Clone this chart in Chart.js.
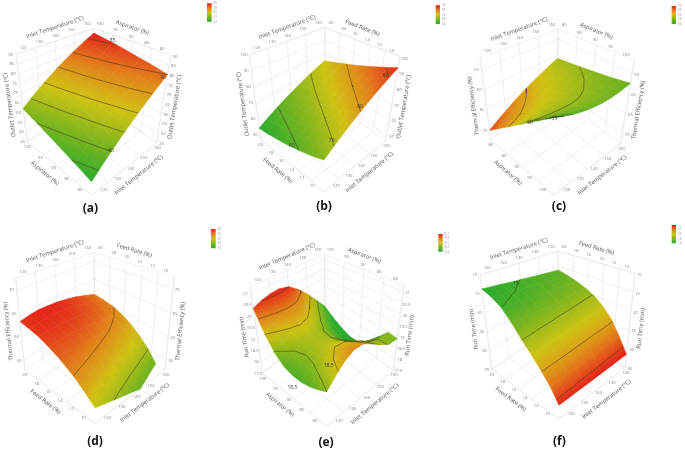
<!DOCTYPE html>
<html><head><meta charset="utf-8">
<style>html,body{margin:0;padding:0;background:#fff;width:685px;height:450px;overflow:hidden}canvas{position:absolute}</style>
<script src="https://cdn.jsdelivr.net/npm/chart.js@4"></script>
</head><body>
<script>
// ---- readings from the picture: first tick of each axis sits at the front corner
const inletUp=[120,130,140,150,160], inletDown=[160,150,140,130,120];
const aspUp=[80,85,90,95,100], aspDown=[100,95,90,85,80];
const feedUp=[10,12,14,16,18,20];
const aOutlet=[45,50,55,60,65,70,75,80,85,90];
const bOutlet=[50,60,70,80,90,100];
const cEfficiency=[55,60,65,70];
const dEfficiency=[55,60,65,70];
const eRunTime=[17.5,18,18.5,19,19.5,20,20.5,21];
const fRunTime=[10,15,20,25,30,35];
const aLevels=[55,60,65,70,75,80,85], bLevels=[60,70,80,90], cLevels=[55,60,65], dLevels=[55,60], eLevels=[19,19.5,20,20.5], fLevels=[15,20,25,30];
const aLegend=[86,78,69,61,52], bLegend=[94,84,74,64,54], cLegend=[70,66,62,58,54], dLegend=[64,60,57,53,50], eLegend=[20.7,19.9,19.1,18.2,17.4], fLegend=[32,27,23,18,14];
const aSurface=[
[52,55.5,59,62.5,66,69.5,73,76.5,80],
[53.3,56.7,60.2,63.6,67.1,70.5,74,77.4,80.9],
[54.5,57.9,61.3,64.7,68.1,71.5,75,78.3,81.8],
[55.8,59.1,62.5,65.8,69.2,72.6,75.9,79.3,82.6],
[57,60.3,63.6,66.9,70.3,73.6,76.9,80.2,83.5],
[58.3,61.5,64.8,68.1,71.3,74.6,77.9,81.1,84.4],
[59.5,62.7,65.9,69.2,72.4,75.6,78.8,82,85.3],
[60.8,63.9,67.1,70.3,73.4,76.6,79.8,83,86.1],
[62,65.1,68.3,71.4,74.5,77.6,80.8,83.9,87]];
const bSurface=[
[66,69.4,72.8,76.1,79.5,82.9,86.3,89.6,93],
[63.8,67.2,70.5,73.9,77.2,80.6,83.9,87.3,90.6],
[61.9,65.2,68.5,71.8,75.1,78.4,81.7,85,88.3],
[60.1,63.3,66.6,69.8,73,76.2,79.5,82.7,85.9],
[58.5,61.6,64.8,67.9,71,74.1,77.3,80.4,83.5],
[57.1,60.1,63.1,66.1,69.1,72.1,75.1,78.1,81.1],
[55.9,58.8,61.6,64.5,67.3,70.2,73,75.9,78.8],
[54.8,57.5,60.2,62.9,65.6,68.3,71,73.7,76.4],
[54,56.5,59,61.5,64,66.5,69,71.5,74]];
const cSurface=[
[54,55.2,56.2,57,57.6,58,58.1,58,57.6],
[56,56.9,57.6,58.2,58.6,58.8,58.8,58.5,58],
[58,58.6,59.1,59.4,59.6,59.6,59.4,59,58.5],
[60,60.3,60.5,60.6,60.6,60.4,60,59.5,58.9],
[62,62.1,62,61.8,61.6,61.2,60.7,60,59.3],
[64,63.8,63.4,63,62.5,62,61.3,60.6,59.7],
[66,65.5,64.9,64.2,63.5,62.8,62,61.1,60.2],
[68,67.2,66.3,65.4,64.5,63.6,62.6,61.6,60.6],
[70,68.9,67.8,66.6,65.5,64.4,63.3,62.1,61]];
const dSurface=[
[56.5,55.8,55.1,54.4,53.8,53.1,52.4,51.7,51],
[58.1,57.5,57,56.3,55.7,55,54.4,53.6,52.9],
[59.6,59.2,58.8,58.3,57.7,57.1,56.5,55.8,55],
[60.7,60.5,60.2,59.8,59.3,58.8,58.2,57.5,56.7],
[61.7,61.6,61.4,61.1,60.8,60.3,59.7,59,58.2],
[62.4,62.4,62.4,62.2,61.9,61.4,60.8,60.1,59.3],
[63,63.2,63.2,63,62.8,62.3,61.7,61,60.1],
[63.2,63.5,63.6,63.5,63.3,62.8,62.2,61.5,60.5],
[63.3,63.7,63.9,63.8,63.6,63.2,62.6,61.7,60.7]];
const eSurface=[
[19,19.4,19.75,19.95,19.9,19.6,19.25,18.95,18.9],
[18.8,19.2,19.56,19.77,19.75,19.47,19.13,18.97,18.95],
[18.65,19.02,19.34,19.53,19.49,19.21,18.86,18.65,18.5],
[18.55,18.88,19.16,19.32,19.26,18.98,18.59,18.26,18],
[18.55,18.84,19.09,19.22,19.16,18.86,18.45,18.06,17.7],
[18.65,18.93,19.15,19.28,19.2,18.91,18.49,18.07,17.65],
[18.95,19.2,19.41,19.52,19.46,19.16,18.74,18.27,17.8],
[19.5,19.71,19.88,19.96,19.88,19.57,19.11,18.6,18.05],
[20.35,20.5,20.6,20.62,20.5,20.15,19.65,19.05,18.4]];
const fSurface=[
[31,31.1,31.1,31.2,31.3,31.3,31.4,31.4,31.5],
[27.5,27.6,27.6,27.7,27.8,27.8,27.9,27.9,28],
[24.8,24.8,24.8,24.7,24.7,24.7,24.7,24.6,24.6],
[22.3,22.3,22.3,22.3,22.3,22.2,22.2,22.2,22.2],
[20,20,20.1,20.1,20.2,20.2,20.2,20.3,20.3],
[17.3,17.5,17.7,17.9,18.2,18.4,18.6,18.8,19],
[15,15.4,15.8,16.1,16.5,16.9,17.3,17.6,18],
[14,14.4,14.8,15.2,15.6,16,16.4,16.8,17.2],
[13.7,14,14.3,14.7,15,15.4,15.8,16.2,16.6]];

// ---- camera and layout of every panel, in units of a third of a pixel inside its tile
const panels=[
{tag:'(a)',tile:[0,0,240,225],tagAt:[271,625],surface:aSurface,uTicks:inletUp,vTicks:aspUp,zTicks:aOutlet,levels:aLevels,legend:aLegend,
 uTitle:'Inlet Temperature (°C)',vTitle:'Aspirator (%)',zTitle:'Outlet Temperature (°C)',zFloor:45,zRoof:90,colors:[52,87],
 TL:[48,163],TR:[512,165],TB:[282,85],TF:[272,329],L:[82,425],R:[470,428],B:[279,298],F:[275,585],legendBox:[621,10,635,65],
 notes:[['60',333,452],['85',338,122],['80',490,232]]},
{tag:'(b)',tile:[230,0,230,225],tagAt:[282,621],surface:bSurface,uTicks:inletUp,vTicks:feedUp,zTicks:bOutlet,levels:bLevels,legend:bLegend,
 uTitle:'Inlet Temperature (°C)',vTitle:'Feed Rate (%)',zTitle:'Outlet Temperature (°C)',zFloor:47,zRoof:100,colors:[54,94],
 TL:[58,165],TR:[510,170],TB:[285,82],TF:[282,310],L:[92,418],R:[467,422],B:[283,287],F:[282,575],legendBox:[617,16,630,72],
 notes:[['60',185,437],['70',305,423],['80',390,320],['90',467,226]]},
{tag:'(c)',tile:[455,0,230,225],tagAt:[312,621],surface:cSurface,uTicks:inletUp,vTicks:aspDown,zTicks:cEfficiency,levels:cLevels,legend:cLegend,
 uTitle:'Inlet Temperature (°C)',vTitle:'Aspirator (%)',zTitle:'Thermal Efficiency (%)',zFloor:72.4,zRoof:52,colors:[54,72],
 TL:[75,172],TR:[538,182],TB:[310,88],TF:[298,326],L:[108,420],R:[497,430],B:[305,285],F:[298,585],legendBox:[650,18,663,72],
 notes:[['60',225,369],['55',298,357]]},
{tag:'(d)',tile:[0,225,240,225],tagAt:[285,651],surface:dSurface,uTicks:inletUp,vTicks:feedUp,zTicks:dEfficiency,levels:dLevels,legend:dLegend,
 uTitle:'Inlet Temperature (°C)',vTitle:'Feed Rate (%)',zTitle:'Thermal Efficiency (%)',zFloor:53,zRoof:72.5,colors:[50,64],
 TL:[47,160],TR:[522,155],TB:[283,82],TF:[285,336],L:[75,435],R:[495,435],B:[283,290],F:[285,595],legendBox:[633,12,647,70],
 notes:[]},
{tag:'(e)',tile:[230,225,230,225],tagAt:[288,652],surface:eSurface,uTicks:inletUp,vTicks:aspUp,zTicks:eRunTime,levels:eLevels,legend:eLegend,
 uTitle:'Inlet Temperature (°C)',vTitle:'Aspirator (%)',zTitle:'Run Time (min)',zFloor:17.5,zRoof:21.3,colors:[18.3,20.6],
 TL:[60,185],TR:[522,180],TB:[283,88],TF:[290,344],L:[98,445],R:[490,435],B:[285,292],F:[290,603],legendBox:[625,27,638,80],
 notes:[['18.5',296,423],['18.5',187,487]]},
{tag:'(f)',tile:[455,225,230,225],tagAt:[313,651],surface:fSurface,uTicks:inletDown,vTicks:feedUp,zTicks:fRunTime,levels:fLevels,legend:fLegend,
 uTitle:'Inlet Temperature (°C)',vTitle:'Feed Rate (%)',zTitle:'Run Time (min)',zFloor:35,zRoof:10,colors:[13.7,31.5],
 TL:[75,150],TR:[540,145],TB:[308,78],TF:[312,323],L:[110,433],R:[510,428],B:[315,295],F:[312,582],legendBox:[650,0,663,55],
 notes:[['15',183,177]]}
];

const RAMP=[[0,[44,172,44]],[0.25,[122,180,30]],[0.5,[208,196,18]],[0.75,[226,128,26]],[1,[228,32,26]]];
function ramp(t,k){t=Math.max(0,Math.min(1,t));
  for(let s=1;s<RAMP.length;s++){if(t<=RAMP[s][0]){const a=RAMP[s-1],b=RAMP[s],f=(t-a[0])/(b[0]-a[0]);
    return `rgb(${a[1].map((c,n)=>Math.round((c+(b[1][n]-c)*f)*k)).join(',')})`;}}
  return `rgb(${RAMP[4][1].map(c=>Math.round(c*k)).join(',')})`;}

function build(p){
  const mix=(a,b,t)=>[a[0]+(b[0]-a[0])*t,a[1]+(b[1]-a[1])*t];
  const toW=z=>(z-p.zFloor)/(p.zRoof-p.zFloor);
  // trilinear camera from the eight box corners to the chart's x/y plane
  const proj=(u,v,w)=>{const low=mix(mix(p.F,p.R,u),mix(p.L,p.B,u),v),high=mix(mix(p.TF,p.TR,u),mix(p.TL,p.TB,u),v),q=mix(low,high,w);return {x:q[0]/3,y:q[1]/3};};
  const S=p.surface,nj=S.length-1,ni=S[0].length-1;
  const frac=(t,a)=>(t-a[0])/(a[a.length-1]-a[0]);
  const area=q=>{let s=0;q.forEach((a,k)=>{const b=q[(k+1)%q.length];s+=a.x*b.y-b.x*a.y;});return s/2;};
  const floorArea=area([proj(0,0,0),proj(1,0,0),proj(1,1,0),proj(0,1,0)]);
  const sets=[];
  // ---- box grid
  const grid=[],gap={x:NaN,y:NaN};
  const seg=(a,b)=>{grid.push(a,b,gap);};
  p.uTicks.forEach(t=>{const u=frac(t,p.uTicks);seg(proj(u,0,0),proj(u,1,0));seg(proj(u,1,0),proj(u,1,1));});
  p.vTicks.forEach(t=>{const v=frac(t,p.vTicks);seg(proj(0,v,0),proj(1,v,0));seg(proj(1,v,0),proj(1,v,1));});
  p.zTicks.forEach(t=>{const w=toW(t);seg(proj(0,1,w),proj(1,1,w));seg(proj(1,1,w),proj(1,0,w));});
  seg(proj(0,1,0),proj(0,1,1));seg(proj(1,0,0),proj(1,0,1));seg(proj(0,1,1),proj(1,1,1));seg(proj(1,1,1),proj(1,0,1));
  seg(proj(0,0,0),proj(1,0,0));seg(proj(0,0,0),proj(0,1,0));
  sets.push({data:grid,showLine:true,borderColor:'#e4e4e4',borderWidth:0.6,pointRadius:0,spanGaps:false,fill:false});
  // ---- surface cells, far corner first
  for(let j=nj-1;j>=0;j--)for(let i=ni-1;i>=0;i--){
    const nodes=[[i,j],[i+1,j],[i+1,j+1],[i,j+1]].map(([a,b])=>({u:a/ni,v:b/nj,z:S[b][a]}));
    // keep only what lies above the floor of the box
    const keep=[];
    nodes.forEach((n,k)=>{const m=nodes[(k+1)%4],wn=toW(n.z),wm=toW(m.z);
      if(wn>=0)keep.push(n);
      if((wn>=0)!==(wm>=0)){const f=wn/(wn-wm);keep.push({u:n.u+(m.u-n.u)*f,v:n.v+(m.v-n.v)*f,z:n.z+(m.z-n.z)*f});}});
    if(keep.length<3)continue;
    const pts=keep.map(n=>proj(n.u,n.v,toW(n.z)));
    // steep or folded-over cells look darker, as the dense mesh does in the picture
    const ratio=area(nodes.map(n=>proj(n.u,n.v,toW(n.z))))/(floorArea/(ni*nj));
    const shade=ratio<=0?0.62:0.66+0.34*Math.min(1,ratio/0.35);
    const tone=z=>ramp((z-p.colors[0])/(p.colors[1]-p.colors[0]),shade);
    const paint=(ctx)=>{
      const c=ctx.chart, X=c.scales.x, Y=c.scales.y;
      const zs0=nodes.map(n=>n.z),z0=zs0.reduce((s,z)=>s+z,0)/4;
      if(!X||!Y)return tone(z0);
      const px=nodes.map(n=>{const q=proj(n.u,n.v,toW(n.z));return [X.getPixelForValue(q.x),Y.getPixelForValue(q.y),n.z];});
      const zs=px.map(q=>q[2]),zc=zs.reduce((s,z)=>s+z,0)/4;
      const cx=px.reduce((s,q)=>s+q[0],0)/4,cy=px.reduce((s,q)=>s+q[1],0)/4;
      if(!isFinite(cx)||!isFinite(cy))return tone(zc);
      const d1=[px[2][0]-px[0][0],px[2][1]-px[0][1],px[2][2]-px[0][2]],d2=[px[3][0]-px[1][0],px[3][1]-px[1][1],px[3][2]-px[1][2]];
      const det=d1[0]*d2[1]-d1[1]*d2[0];
      if(Math.abs(det)<1e-3)return tone(zc);
      const ga=(d1[2]*d2[1]-d1[1]*d2[2])/det,gb=(d1[0]*d2[2]-d1[2]*d2[0])/det,g2=ga*ga+gb*gb;
      const dz=Math.max(...zs.map(z=>Math.abs(z-zc)));
      if(g2<1e-9||dz<1e-6)return tone(zc);
      const lim=Math.min(dz/Math.sqrt(g2),14)*Math.sqrt(g2);
      const gr=c.ctx.createLinearGradient(cx-lim*ga/g2,cy-lim*gb/g2,cx+lim*ga/g2,cy+lim*gb/g2);
      gr.addColorStop(0,tone(zc-lim));gr.addColorStop(0.5,tone(zc));gr.addColorStop(1,tone(zc+lim));
      return gr;};
    sets.push({data:[...pts,pts[0]],showLine:true,fill:'shape',backgroundColor:paint,borderColor:paint,borderWidth:0.6,pointRadius:0,pointBackgroundColor:'transparent',pointBorderColor:'transparent'});
  }
  // ---- contour lines from the table (marching squares)
  p.levels.forEach(L=>{const line=[];
    for(let j=0;j<nj;j++)for(let i=0;i<ni;i++){
      const c=[[i,j],[i+1,j],[i+1,j+1],[i,j+1]],hits=[];
      for(let k=0;k<4;k++){const a=c[k],b=c[(k+1)%4],za=S[a[1]][a[0]],zb=S[b[1]][b[0]];
        if((za<L)!==(zb<L)){const f=(L-za)/(zb-za);hits.push(proj((a[0]+(b[0]-a[0])*f)/ni,(a[1]+(b[1]-a[1])*f)/nj,toW(L)));}}
      if(toW(L)<0)continue;
      for(let h=0;h+1<hits.length;h+=2)line.push(hits[h],hits[h+1],{x:NaN,y:NaN});
    }
    sets.push({data:line,showLine:true,borderColor:'rgba(70,55,25,0.72)',borderWidth:0.75,pointRadius:0,spanGaps:false,fill:false});
  });
  // ---- colour key as a filled shape
  const lb=p.legendBox,key=[{x:lb[0]/3,y:lb[1]/3},{x:lb[2]/3,y:lb[1]/3},{x:lb[2]/3,y:lb[3]/3},{x:lb[0]/3,y:lb[3]/3},{x:lb[0]/3,y:lb[1]/3}];
  const keyPaint=(ctx)=>{const c=ctx.chart;if(!c.scales.y)return '#888';
    const y0=c.scales.y.getPixelForValue(lb[3]/3),y1=c.scales.y.getPixelForValue(lb[1]/3);
    if(!isFinite(y0)||!isFinite(y1))return '#888';
    const gr=c.ctx.createLinearGradient(0,y0,0,y1);
    RAMP.forEach(s=>gr.addColorStop(s[0],`rgb(${s[1].join(',')})`));return gr;};
  sets.push({data:key,showLine:true,fill:'shape',backgroundColor:keyPaint,borderColor:'rgba(0,0,0,0)',borderWidth:0,pointRadius:0});
  sets.reverse();

  const textPlugin={id:'labels'+p.tag,afterDatasetsDraw(chart){
    const g=chart.ctx,X=chart.scales.x,Y=chart.scales.y;
    const at=(q)=>[X.getPixelForValue(q[0]/3),Y.getPixelForValue(q[1]/3)];
    const put=(s,q,font,col,ang)=>{const a=at(q);g.save();g.translate(a[0],a[1]);if(ang)g.rotate(ang);g.font=font;g.fillStyle=col;g.textAlign='center';g.textBaseline='middle';g.fillText(s,0,0);g.restore();};
    const add=(a,o)=>[a[0]+o[0],a[1]+o[1]];
    const row=(ticks,fr,a,b)=>ticks.forEach(t=>{const q=mix(a,b,fr(t));put(String(t),q,'4.2px "Open Sans"','#808080');});
    const uF=t=>frac(t,p.uTicks),vF=t=>frac(t,p.vTicks);
    row(p.uTicks,uF,add(p.TL,[22,-21]),add(p.TB,[-20,-13]));
    row(p.vTicks,vF,add(p.TR,[-25,-19]),add(p.TB,[18,-13]));
    row(p.zTicks,toW,add(p.L,[-14,1]),add(p.TL,[-16,0]));
    row(p.zTicks,toW,add(p.R,[15,2]),add(p.TR,[13,5]));
    row(p.vTicks,vF,add(p.F,[-35,-17]),add(p.L,[0,15]));
    row(p.uTicks,uF,add(p.F,[37,-17]),add(p.R,[2,15]));
    const title=(s,a,b,o)=>{const m=add(mix(a,b,0.5),o);put(s,m,'5.8px "Open Sans"','#505050',Math.atan2(b[1]-a[1],b[0]-a[0]));};
    title(p.uTitle,p.TL,p.TB,[0,-42]);
    title(p.vTitle,p.TB,p.TR,[0,-42]);
    title(p.zTitle,p.L,p.TL,[-36,21]);
    title(p.zTitle,p.R,p.TR,[33,24]);
    title(p.vTitle,p.L,p.F,[-44,15]);
    title(p.uTitle,p.F,p.R,[44,18]);
    p.notes.forEach(n=>put(n[0],[n[1],n[2]],'5px "Open Sans"','#3a3a2a'));
    p.legend.forEach((t,k)=>{const y=lb[1]+(lb[3]-lb[1])*k/(p.legend.length-1);const q=[lb[2]+11,y];put(String(t),q,'3px "Open Sans"','#999');});
    put(p.tag,p.tagAt,'bold 12px "Open Sans"','#111');
  }};

  const cv=document.createElement('canvas');
  cv.width=p.tile[2];cv.height=p.tile[3];
  cv.style.left=p.tile[0]+'px';cv.style.top=p.tile[1]+'px';cv.style.width=p.tile[2]+'px';cv.style.height=p.tile[3]+'px';
  document.body.appendChild(cv);
  new Chart(cv,{type:'scatter',data:{datasets:sets},plugins:[textPlugin],options:{
    responsive:false,animation:false,devicePixelRatio:1,layout:{padding:0},
    plugins:{legend:{display:false},title:{display:false},tooltip:{enabled:false}},
    elements:{line:{tension:0,capBezierPoints:false}},
    datasets:{scatter:{clip:false}},
    scales:{x:{type:'linear',min:0,max:p.tile[2],display:false},y:{type:'linear',min:0,max:p.tile[3],reverse:true,display:false}}
  }});
}
document.fonts.load('12px "Open Sans"').finally(()=>panels.forEach(build));
</script>
</body></html>
